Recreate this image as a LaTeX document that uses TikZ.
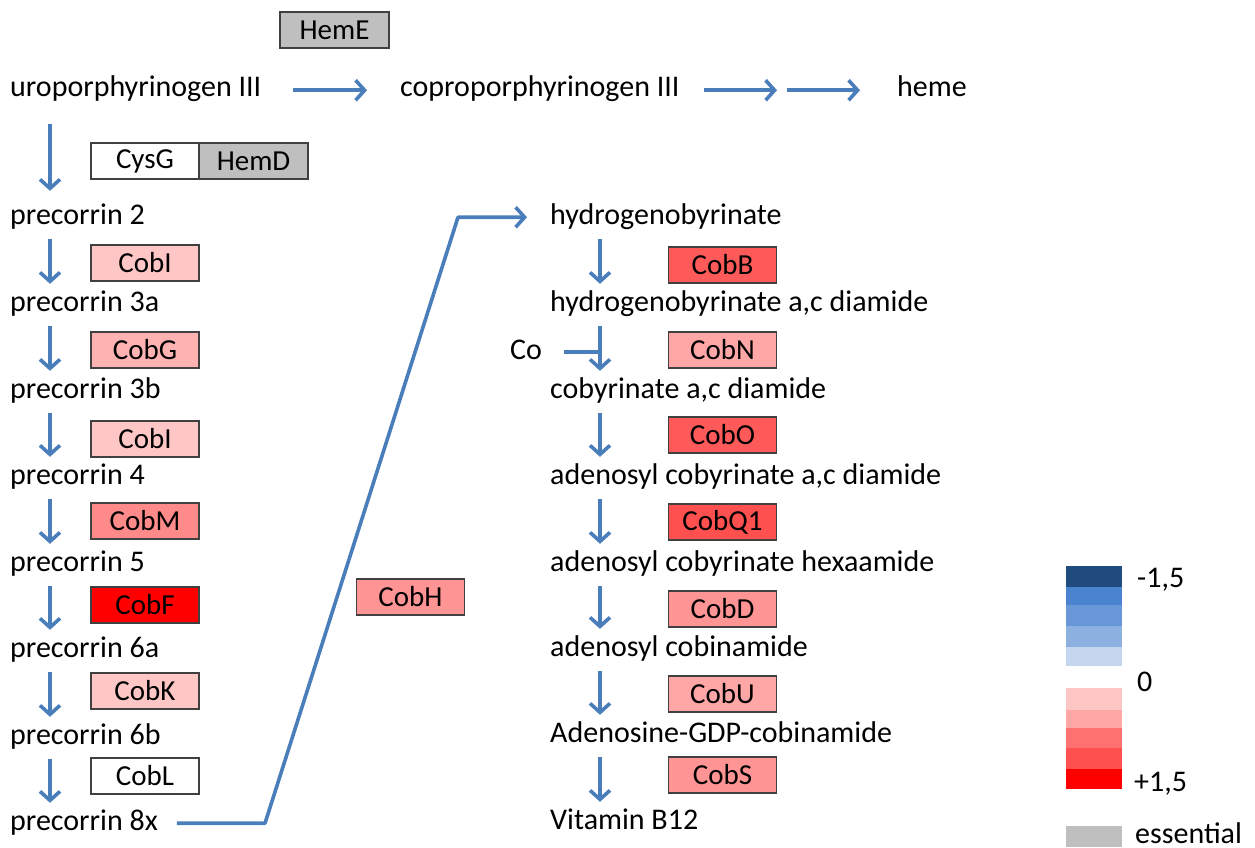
\documentclass[tikz,border=0pt]{standalone}
\usepackage{fontspec}
\setmainfont{Carlito}
\usetikzlibrary{arrows.meta}
\definecolor{arrblue}{HTML}{4A7EBB}
\definecolor{essgray}{HTML}{BFBFBF}
\definecolor{upA}{HTML}{FFC6C6}
\definecolor{upB}{HTML}{FFB2B2}
\definecolor{upC}{HTML}{FFA6A6}
\definecolor{upD}{HTML}{FF9494}
\definecolor{upE}{HTML}{FF8A8A}
\definecolor{upF}{HTML}{FF5A5A}
\definecolor{upG}{HTML}{FF5050}
\definecolor{upH}{HTML}{FF0000}
\definecolor{upX}{HTML}{FF7070}
\definecolor{dnA}{HTML}{1F4B7E}
\definecolor{dnB}{HTML}{4A84D0}
\definecolor{dnC}{HTML}{6797D6}
\definecolor{dnD}{HTML}{8CB0E0}
\definecolor{dnE}{HTML}{C5D7EF}
\tikzset{
  metab/.style={anchor=base west, inner sep=0pt, text height=21pt, text depth=7.5pt,
    font=\fontsize{30}{36}\selectfont},
  enz/.style={draw=black!75, line width=1.2pt, minimum width=108pt, minimum height=36pt,
    inner sep=0pt, font=\fontsize{29}{34}\selectfont},
  flow/.style={draw=arrblue, line width=3.6pt, -{Straight Barb[length=9pt,width=20pt]}},
  vflow/.style={flow, shorten <=7pt, shorten >=6pt},
}
\begin{document}
\begin{tikzpicture}[x=1pt,y=-1pt]
\useasboundingbox (0,0) rectangle (1255,848);
% heme branch
\node[metab] (uro) at (10,97) {uroporphyrinogen III};
\node[metab] (copro) at (400,97) {coproporphyrinogen III};
\node[metab] (heme) at (897,97) {heme};
\node[enz, fill=essgray, minimum width=109pt] (hemE) at (334.5,30) {HemE};
\draw[flow, shorten <=32pt, shorten >=33pt](uro.east) -- (copro.west);
\draw[flow, shorten <=24pt, shorten >=120pt](copro.east) -- (heme.west);
\draw[flow, shorten <=107pt, shorten >=37pt](copro.east) -- (heme.west);
% precorrin column
\coordinate (lx) at (50,0);
\node[metab] (pc2) at (10,224) {precorrin 2};
\node[metab] (pc3a) at (10,311) {precorrin 3a};
\node[metab] (pc3b) at (10,398) {precorrin 3b};
\node[metab] (pc4) at (10,484) {precorrin 4};
\node[metab] (pc5) at (10,571) {precorrin 5};
\node[metab] (pc6a) at (10,657) {precorrin 6a};
\node[metab] (pc6b) at (10,744) {precorrin 6b};
\node[metab] (pc8x) at (10,830) {precorrin 8x};
\node[enz, fill=white] (cysG) at (145,161) {CysG};
\node[enz, fill=essgray, minimum width=109pt] (hemD) at (253.5,161) {HemD};
\node[enz, fill=upA] (cobI1) at (145,263) {CobI};
\node[enz, fill=upB] (cobG) at (145,350) {CobG};
\node[enz, fill=upA] (cobI2) at (145,439) {CobI};
\node[enz, fill=upE] (cobM) at (145,521) {CobM};
\node[enz, fill=upH] (cobF) at (145,605) {CobF};
\node[enz, fill=upA] (cobK) at (145,691) {CobK};
\node[enz, fill=white] (cobL) at (145,776) {CobL};
\draw[flow, shorten <=19.5pt, shorten >=12pt](uro.south -| lx) -- (pc2.north -| lx);
\draw[vflow](pc2.south -| lx) -- (pc3a.north -| lx);
\draw[vflow](pc3a.south -| lx) -- (pc3b.north -| lx);
\draw[vflow](pc3b.south -| lx) -- (pc4.north -| lx);
\draw[vflow](pc4.south -| lx) -- (pc5.north -| lx);
\draw[vflow](pc5.south -| lx) -- (pc6a.north -| lx);
\draw[vflow](pc6a.south -| lx) -- (pc6b.north -| lx);
\draw[vflow](pc6b.south -| lx) -- (pc8x.north -| lx);
% link to the cobalt column
\node[enz, fill=upD] (cobH) at (410.5,597) {CobH};
% cobalamin column
\coordinate (rx) at (600,0);
\node[metab] (hgb) at (550,224) {hydrogenobyrinate};
\node[metab] (hgbd) at (550,311) {hydrogenobyrinate a,c diamide};
\node[metab] (cbd) at (550,398) {cobyrinate a,c diamide};
\node[metab] (acbd) at (550,484) {adenosyl cobyrinate a,c diamide};
\node[metab] (acbh) at (550,571) {adenosyl cobyrinate hexaamide};
\node[metab] (acbi) at (550,656) {adenosyl cobinamide};
\node[metab] (agdp) at (550,742) {Adenosine-GDP-cobinamide};
\node[metab] (b12) at (550,829) {Vitamin B12};
\node[metab] (co) at (510,359) {Co};
\node[enz, fill=upF] (cobB) at (722.5,265) {CobB};
\node[enz, fill=upC] (cobN) at (722.5,350) {CobN};
\node[enz, fill=upF] (cobO) at (722.5,435) {CobO};
\node[enz, fill=upG] (cobQ) at (722.5,522) {CobQ1};
\node[enz, fill=upD] (cobD) at (722.5,609) {CobD};
\node[enz, fill=upC] (cobU) at (722.5,694) {CobU};
\node[enz, fill=upD] (cobS) at (722.5,775) {CobS};
\coordinate (k1) at (pc8x.east -| 265,0);
\coordinate (k2) at (hgb.west -| 458,0);
\draw[flow, line join=round]([xshift=19pt]pc8x.east) -- (k1) -- (k2) -- ([xshift=-23pt]hgb.west);
\draw[vflow](hgb.south -| rx) -- (hgbd.north -| rx);
\draw[vflow](hgbd.south -| rx) -- (cbd.north -| rx);
\draw[vflow](cbd.south -| rx) -- (acbd.north -| rx);
\draw[vflow](acbd.south -| rx) -- (acbh.north -| rx);
\draw[vflow](acbh.south -| rx) -- (acbi.north -| rx);
\draw[vflow](acbi.south -| rx) -- (agdp.north -| rx);
\draw[vflow](agdp.south -| rx) -- (b12.north -| rx);
\draw[draw=arrblue, line width=3.6pt, shorten <=22pt](co.east) -- (co.east -| rx);
% legend
\fill[dnA] (1066,566) rectangle (1122,587);
\fill[dnB] (1066,587) rectangle (1122,605);
\fill[dnC] (1066,605) rectangle (1122,626);
\fill[dnD] (1066,626) rectangle (1122,647);
\fill[dnE] (1066,647) rectangle (1122,666);
\fill[upA] (1066,688) rectangle (1122,710);
\fill[upC] (1066,710) rectangle (1122,728);
\fill[upX] (1066,728) rectangle (1122,748);
\fill[upG] (1066,748) rectangle (1122,769);
\fill[upH] (1066,769) rectangle (1122,789);
\fill[essgray] (1066,826) rectangle (1122,847);
\node[metab] (lmin) at (1137,587) {-1,5};
\node[metab] (lzero) at (1137,691) {0};
\node[metab] (lmax) at (1134,791) {+1,5};
\node[metab, text depth=0pt] (less) at (1135,843) {essential};
\end{tikzpicture}
\end{document}
